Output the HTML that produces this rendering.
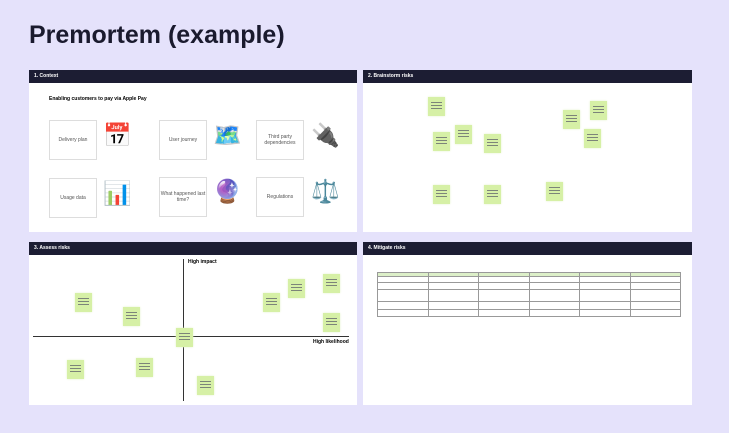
<!DOCTYPE html><html><head><style>
body{margin:0;width:729px;height:433px;background:#e5e2fb;font-family:"Liberation Sans","Noto Sans CJK JP",sans-serif;position:relative;overflow:hidden}
h1{position:absolute;left:29px;top:21px;margin:0;font-size:25px;font-weight:700;color:#1a1a2e}
.p{position:absolute;background:#fff}
.h{position:absolute;left:0;top:0;right:0;height:13px;background:#1c1d33;color:#fff;font-size:5px;font-weight:bold;line-height:13px;padding-left:5px}
.b{position:absolute;width:46px;height:38px;border:1px solid #ddd;font-size:5px;color:#555;display:flex;align-items:center;justify-content:center;text-align:center}
.e{position:absolute;font-size:23px}
.s{position:absolute;width:17px;height:19px;background:#d6f0a6;box-shadow:0 0 2px #e4f3c8}
.s:before{content:"";position:absolute;left:3px;right:3px;top:5px;height:9px;background:repeating-linear-gradient(#556 0 1px,transparent 1px 3px);opacity:.7}
.t{position:absolute;border-collapse:collapse;font-size:1px}
.t td{border:1px solid #999;width:50px}
</style></head><body>
<h1>Premortem (example)</h1>
<div class="p" style="left:29px;top:70px;width:328px;height:162px"><div class="h">1. Context</div>
<div style="position:absolute;left:20px;top:26px;font-size:5px;font-weight:bold">Enabling customers to pay via Apple Pay</div>
<div class="b" style="left:20px;top:50px">Delivery plan</div><div class="e" style="left:74px;top:52px">📅</div>
<div class="b" style="left:130px;top:50px">User journey</div><div class="e" style="left:184px;top:52px">🗺️</div>
<div class="b" style="left:227px;top:50px">Third party dependencies</div><div class="e" style="left:282px;top:52px">🔌</div>
<div class="b" style="left:20px;top:108px">Usage data</div><div class="e" style="left:74px;top:110px">📊</div>
<div class="b" style="left:130px;top:107px">What happened last time?</div><div class="e" style="left:184px;top:108px">🔮</div>
<div class="b" style="left:227px;top:107px">Regulations</div><div class="e" style="left:282px;top:108px">⚖️</div>
</div>
<div class="p" style="left:363px;top:70px;width:329px;height:162px"><div class="h">2. Brainstorm risks</div></div>
<div class="p" style="left:29px;top:242px;width:328px;height:163px"><div class="h">3. Assess risks</div>
<div style="position:absolute;left:154px;top:17px;width:1px;height:142px;background:#333"></div>
<div style="position:absolute;left:4px;top:94px;width:316px;height:1px;background:#333"></div>
<div style="position:absolute;left:159px;top:17px;font-size:5px;font-weight:bold">High impact</div>
<div style="position:absolute;left:284px;top:97px;font-size:5px;font-weight:bold">High likelihood</div>
</div>
<div class="p" style="left:363px;top:242px;width:329px;height:163px"><div class="h">4. Mitigate risks</div>
<table class="t" style="left:14px;top:30px;width:304px">
<tr style="height:4px;background:#dcefc8"><td></td><td></td><td></td><td></td><td></td><td></td></tr>
<tr style="height:6px"><td></td><td></td><td></td><td></td><td></td><td></td></tr>
<tr style="height:7px"><td></td><td></td><td></td><td></td><td></td><td></td></tr>
<tr style="height:12px"><td></td><td></td><td></td><td></td><td></td><td></td></tr>
<tr style="height:8px"><td></td><td></td><td></td><td></td><td></td><td></td></tr>
<tr style="height:7px"><td></td><td></td><td></td><td></td><td></td><td></td></tr>
</table></div>
<div class="s" style="left:428px;top:97px"></div><div class="s" style="left:433px;top:132px"></div><div class="s" style="left:455px;top:125px"></div><div class="s" style="left:484px;top:134px"></div><div class="s" style="left:563px;top:110px"></div><div class="s" style="left:590px;top:101px"></div><div class="s" style="left:584px;top:129px"></div><div class="s" style="left:433px;top:185px"></div><div class="s" style="left:484px;top:185px"></div><div class="s" style="left:546px;top:182px"></div>
<div class="s" style="left:75px;top:293px"></div><div class="s" style="left:123px;top:307px"></div><div class="s" style="left:176px;top:328px"></div><div class="s" style="left:263px;top:293px"></div><div class="s" style="left:288px;top:279px"></div><div class="s" style="left:323px;top:274px"></div><div class="s" style="left:323px;top:313px"></div><div class="s" style="left:67px;top:360px"></div><div class="s" style="left:136px;top:358px"></div><div class="s" style="left:197px;top:376px"></div>
</body></html>
